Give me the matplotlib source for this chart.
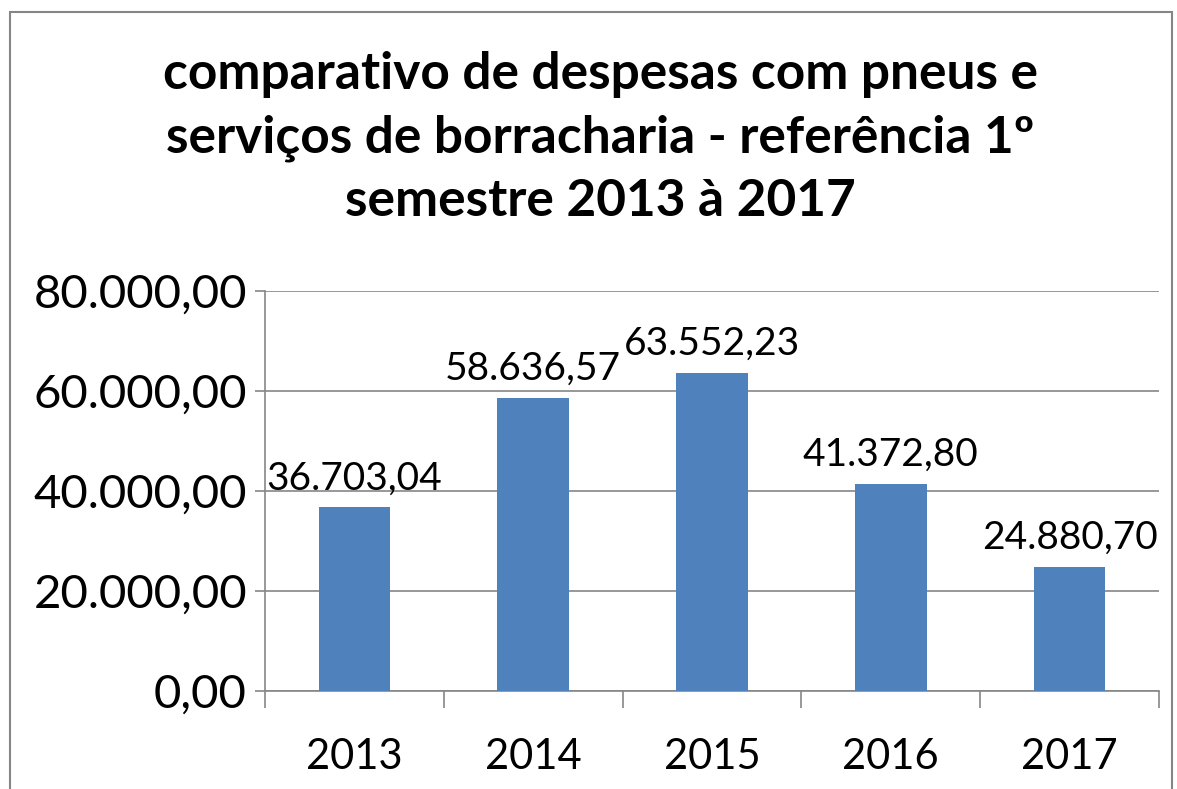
import numpy as np
import matplotlib.pyplot as plt
from matplotlib.patches import Rectangle

anos = ['2013', '2014', '2015', '2016', '2017']
valores = [36703.04, 58636.57, 63552.23, 41372.80, 24880.70]
rotulos = ['36.703,04', '58.636,57', '63.552,23', '41.372,80', '24.880,70']
yticks = [0, 20000, 40000, 60000, 80000]
ytick_labels = ['0,00', '20.000,00', '40.000,00', '60.000,00', '80.000,00']

plt.rcParams['font.family'] = ['Lato', 'DejaVu Sans']
cinza = '#868686'

fig = plt.figure(figsize=(11.77, 7.89), dpi=100)
ax = fig.add_axes([265/1177, 1 - 691/789, (1159-265)/1177, (691-291)/789])

x = np.arange(len(anos))
ax.bar(x, valores, width=0.4, color='#4f81bd', zorder=3)

for xi, v, r in zip(x, valores, rotulos):
    ax.annotate(r, (xi, v), xytext=(0, 8), textcoords='offset points',
                ha='center', va='bottom', fontsize=28)

ax.set_xlim(-0.5, 4.5)
ax.set_ylim(0, 80000)
ax.set_yticks(yticks)
ax.set_yticklabels(ytick_labels, fontsize=34)
ax.yaxis.grid(True, color=cinza, linewidth=1.2, zorder=0)

# category labels at centres, tick marks at boundaries
ax.set_xticks(x)
ax.set_xticklabels(anos, fontsize=30)
ax.tick_params(axis='x', which='major', length=0, pad=34)
ax.set_xticks(np.arange(-0.5, 5, 1), minor=True)
ax.tick_params(axis='x', which='minor', length=12, width=1.2, color=cinza)
ax.tick_params(axis='y', length=7, width=1.2, color=cinza, pad=6)

for s in ['top', 'right']:
    ax.spines[s].set_visible(False)
for s in ['left', 'bottom']:
    ax.spines[s].set_color(cinza)
    ax.spines[s].set_linewidth(1.2)

fig.text(0.51, 0.935,
         'comparativo de despesas com pneus e\nserviços de borracharia - referência 1º\nsemestre 2013 à 2017',
         ha='center', va='top', fontsize=37, fontweight='bold', linespacing=1.42)

# chart border
fig.patches.append(Rectangle((10/1177, -0.01), (1172-10)/1177, 1 - 12/789 + 0.01,
                             transform=fig.transFigure, fill=False,
                             edgecolor=cinza, linewidth=1.5))

fig.savefig('out.png', dpi=100)
